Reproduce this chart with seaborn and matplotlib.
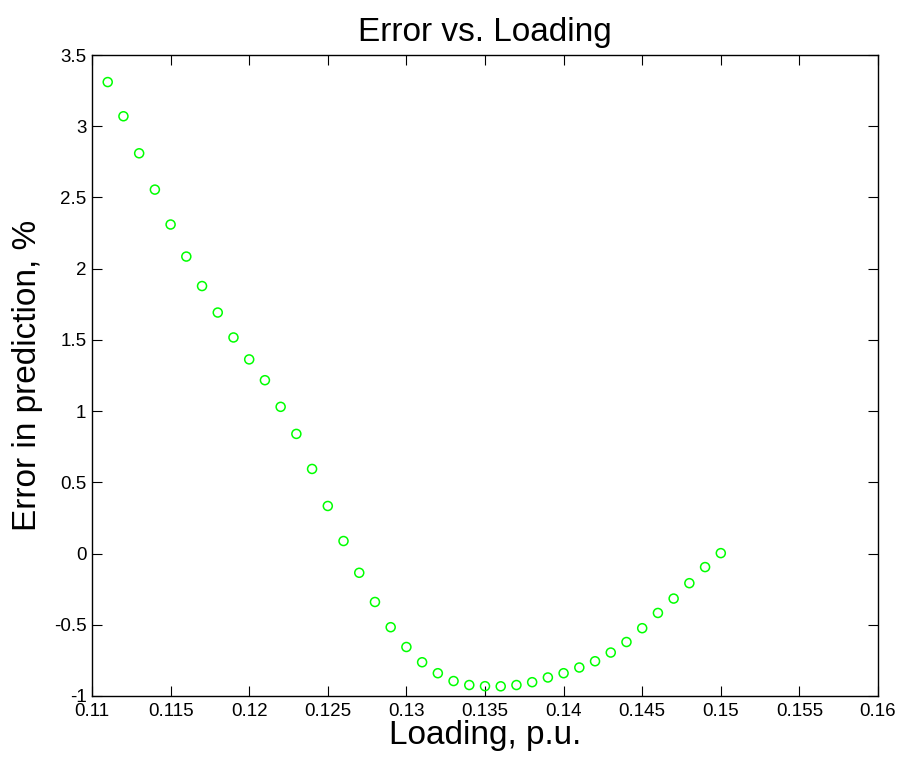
import pandas as pd
import matplotlib
matplotlib.use("Agg")
import matplotlib.pyplot as plt
import seaborn as sns

# values
loading = [0.111, 0.112, 0.113, 0.114, 0.115, 0.116, 0.117, 0.118, 0.119, 0.120,
           0.121, 0.122, 0.123, 0.124, 0.125, 0.126, 0.127, 0.128, 0.129, 0.130,
           0.131, 0.132, 0.133, 0.134, 0.135, 0.136, 0.137, 0.138, 0.139, 0.140,
           0.141, 0.142, 0.143, 0.144, 0.145, 0.146, 0.147, 0.148, 0.149, 0.150]
error_pct = [3.31, 3.07, 2.81, 2.555, 2.31, 2.085, 1.878, 1.692, 1.517, 1.363,
             1.217, 1.03, 0.84, 0.594, 0.334, 0.088, -0.135, -0.34, -0.517, -0.656,
             -0.763, -0.84, -0.895, -0.923, -0.931, -0.932, -0.923, -0.903, -0.87, -0.84,
             -0.8, -0.756, -0.695, -0.621, -0.524, -0.417, -0.316, -0.208, -0.095, 0.003]

x_ticks = [0.11, 0.115, 0.12, 0.125, 0.13, 0.135, 0.14, 0.145, 0.15, 0.155, 0.16]
x_tick_labels = ["0.11", "0.115", "0.12", "0.125", "0.13", "0.135", "0.14", "0.145", "0.15", "0.155", "0.16"]
y_ticks = [-1, -0.5, 0, 0.5, 1, 1.5, 2, 2.5, 3, 3.5]
y_tick_labels = ["-1", "-0.5", "0", "0.5", "1", "1.5", "2", "2.5", "3", "3.5"]

df = pd.DataFrame({"Loading": loading, "Error": error_pct})

sns.set_style("ticks")
plt.rcParams["font.family"] = ["Liberation Sans", "DejaVu Sans"]
plt.rcParams["text.color"] = "black"
plt.rcParams["axes.labelcolor"] = "black"

fig = plt.figure(figsize=(9.04, 7.66), dpi=100)
ax = fig.add_axes([92 / 904, 70 / 766, 786 / 904, 641 / 766])

sns.scatterplot(data=df, x="Loading", y="Error", ax=ax, marker="o", s=42,
                facecolor="none", edgecolor="#00ff00", linewidth=1.1)

ax.set_xlim(0.11, 0.16)
ax.set_ylim(-1, 3.5)
ax.set_xticks(x_ticks)
ax.set_xticklabels(x_tick_labels)
ax.set_yticks(y_ticks)
ax.set_yticklabels(y_tick_labels)

for side in ["top", "right", "bottom", "left"]:
    ax.spines[side].set_visible(True)
    ax.spines[side].set_color("black")
    ax.spines[side].set_linewidth(1.0)

ax.tick_params(direction="in", length=7, width=0.8, top=True, right=True,
               labelsize=13.5, colors="black")
ax.tick_params(axis="x", pad=5)
ax.tick_params(axis="y", pad=4)

ax.set_title("Error vs. Loading", fontsize=24, pad=10, color="black")
ax.set_xlabel("Loading, p.u.", fontsize=24, labelpad=0)
ax.set_ylabel("Error in prediction, %", fontsize=24, labelpad=8)

fig.savefig("out.png", dpi=100, facecolor="white")
